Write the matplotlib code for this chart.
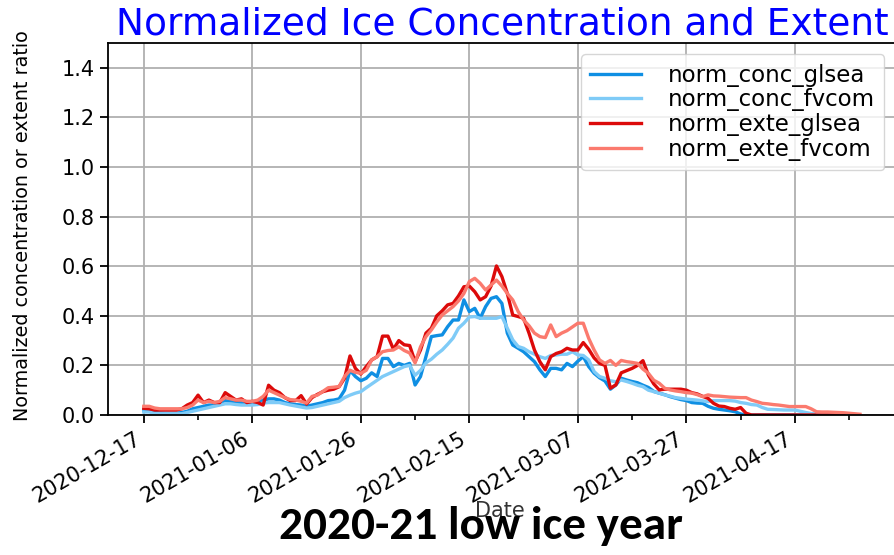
import numpy as np
import matplotlib
matplotlib.use("Agg")
import matplotlib.pyplot as plt
from matplotlib.ticker import FixedLocator

# Daily normalized values, one entry per day starting 2020-12-17
norm_conc_glsea = [
    0.02, 0.02, 0.01, 0.008, 0.007, 0.007, 0.007, 0.01, 0.015, 0.025,
    0.03, 0.035, 0.04, 0.04, 0.05, 0.058, 0.055, 0.05, 0.05, 0.045,
    0.045, 0.05, 0.06, 0.065, 0.065, 0.06, 0.05, 0.045, 0.042, 0.04,
    0.035, 0.04, 0.045, 0.05, 0.058, 0.06, 0.065, 0.10, 0.18, 0.155,
    0.138, 0.148, 0.17, 0.155, 0.228, 0.228, 0.195, 0.208, 0.20, 0.208,
    0.121, 0.155, 0.235, 0.316, 0.32, 0.323, 0.356, 0.383, 0.383, 0.464,
    0.417, 0.43, 0.39, 0.437, 0.47, 0.477, 0.45, 0.33, 0.282, 0.269,
    0.255, 0.235, 0.215, 0.182, 0.155, 0.188, 0.188, 0.182, 0.208, 0.195,
    0.217, 0.235, 0.195, 0.168, 0.15, 0.137, 0.104, 0.121, 0.148, 0.141,
    0.135, 0.13, 0.12, 0.111, 0.095, 0.088, 0.082, 0.074, 0.068, 0.062,
    0.058, 0.05, 0.048, 0.047, 0.035, 0.027, 0.023, 0.02, 0.017, 0.013,
    0.004, 0, 0, 0, 0, 0, 0, 0, 0, 0,
    0, 0, 0, 0, 0, 0, 0, 0, 0, 0,
    None, None, None,
]

norm_conc_fvcom = [
    0.012, 0.012, 0.006, 0.005, 0.005, 0.005, 0.005, 0.005, 0.01, 0.015,
    0.02, 0.025, 0.03, 0.035, 0.04, 0.045, 0.045, 0.042, 0.04, 0.04,
    0.04, 0.042, 0.048, 0.05, 0.05, 0.05, 0.045, 0.04, 0.036, 0.032,
    0.028, 0.03, 0.035, 0.04, 0.045, 0.05, 0.055, 0.07, 0.08, 0.088,
    0.094, 0.11, 0.125, 0.14, 0.155, 0.165, 0.175, 0.185, 0.195, 0.20,
    0.16, 0.18, 0.21, 0.225, 0.245, 0.262, 0.285, 0.31, 0.35, 0.37,
    0.395, 0.397, 0.39, 0.39, 0.39, 0.39, 0.397, 0.35, 0.303, 0.276,
    0.269, 0.255, 0.245, 0.235, 0.228, 0.24, 0.242, 0.245, 0.245, 0.255,
    0.242, 0.24, 0.222, 0.175, 0.155, 0.148, 0.138, 0.134, 0.141, 0.135,
    0.128, 0.12, 0.114, 0.10, 0.094, 0.088, 0.081, 0.076, 0.07, 0.067,
    0.064, 0.062, 0.06, 0.057, 0.054, 0.058, 0.058, 0.058, 0.058, 0.056,
    0.05, 0.047, 0.042, 0.04, 0.03, 0.023, 0.022, 0.021, 0.02, 0.02,
    0.02, 0.015, 0.01, 0.006, 0.004, 0, 0, 0, 0, 0,
    None, None, None,
]

norm_exte_glsea = [
    0.027, 0.025, 0.02, 0.02, 0.02, 0.02, 0.02, 0.025, 0.04, 0.05,
    0.08, 0.05, 0.06, 0.05, 0.05, 0.09, 0.075, 0.06, 0.065, 0.05,
    0.055, 0.05, 0.04, 0.12, 0.10, 0.09, 0.07, 0.058, 0.058, 0.078,
    0.044, 0.07, 0.083, 0.094, 0.10, 0.104, 0.114, 0.148, 0.238, 0.188,
    0.165, 0.195, 0.222, 0.235, 0.318, 0.318, 0.265, 0.30, 0.283, 0.28,
    0.215, 0.262, 0.33, 0.35, 0.40, 0.42, 0.444, 0.45, 0.48, 0.517,
    0.52, 0.497, 0.464, 0.477, 0.52, 0.601, 0.558, 0.49, 0.403, 0.397,
    0.39, 0.33, 0.262, 0.215, 0.182, 0.235, 0.248, 0.255, 0.269, 0.262,
    0.262, 0.292, 0.265, 0.23, 0.208, 0.20, 0.108, 0.121, 0.17, 0.179,
    0.188, 0.20, 0.219, 0.161, 0.125, 0.101, 0.104, 0.104, 0.104, 0.104,
    0.10, 0.09, 0.085, 0.075, 0.067, 0.047, 0.036, 0.034, 0.027, 0.023,
    0.03, 0.007, 0, 0, 0, 0, 0, 0, 0, 0,
    0, 0, 0, 0, 0, 0, 0, 0, 0, 0,
    None, None, None,
]

norm_exte_fvcom = [
    0.035, 0.035, 0.028, 0.025, 0.025, 0.025, 0.025, 0.025, 0.03, 0.04,
    0.06, 0.05, 0.055, 0.05, 0.055, 0.07, 0.065, 0.06, 0.06, 0.055,
    0.055, 0.06, 0.075, 0.10, 0.09, 0.08, 0.07, 0.062, 0.06, 0.055,
    0.048, 0.075, 0.08, 0.095, 0.11, 0.112, 0.115, 0.155, 0.18, 0.172,
    0.168, 0.18, 0.222, 0.235, 0.255, 0.26, 0.262, 0.275, 0.26, 0.25,
    0.21, 0.275, 0.316, 0.343, 0.375, 0.403, 0.42, 0.437, 0.46, 0.49,
    0.538, 0.551, 0.531, 0.504, 0.524, 0.544, 0.52, 0.49, 0.464, 0.417,
    0.383, 0.36, 0.33, 0.316, 0.312, 0.363, 0.316, 0.33, 0.34, 0.355,
    0.37, 0.37, 0.309, 0.262, 0.222, 0.208, 0.22, 0.20, 0.22, 0.215,
    0.212, 0.208, 0.185, 0.168, 0.14, 0.128, 0.108, 0.101, 0.097, 0.094,
    0.09, 0.088, 0.082, 0.074, 0.081, 0.077, 0.076, 0.074, 0.072, 0.071,
    0.07, 0.07, 0.06, 0.054, 0.047, 0.045, 0.042, 0.04, 0.037, 0.034,
    0.034, 0.034, 0.034, 0.025, 0.013, 0.012, 0.012, 0.011, 0.01, 0.009,
    0.007, 0.005, 0.003,
]

date_tick_labels = ["2020-12-17", "2021-01-06", "2021-01-26", "2021-02-15",
                    "2021-03-07", "2021-03-27", "2021-04-17"]

series = [
    ("norm_conc_glsea", norm_conc_glsea, "#0f8fe3"),
    ("norm_conc_fvcom", norm_conc_fvcom, "#7fcbf7"),
    ("norm_exte_glsea", norm_exte_glsea, "#dc0a0a"),
    ("norm_exte_fvcom", norm_exte_fvcom, "#fb7a6e"),
]

fig = plt.figure(figsize=(8.94, 5.55), dpi=100)
ax = fig.add_axes([0.1208, 0.2523, 0.8812, 0.6702])

for name, vals, color in series:
    y = np.array(vals, dtype=float)
    x = np.arange(len(y))
    ax.plot(x, y, color=color, lw=2.4, label=name)

ax.set_ylim(0, 1.5)
yt = np.arange(0, 1.41, 0.2)
ax.yaxis.set_major_locator(FixedLocator(yt))
ax.set_yticklabels([f"{v:.1f}" for v in yt])

major_days = np.arange(0, 20 * len(date_tick_labels), 20)
ax.set_xticks(major_days)
ax.set_xticklabels(date_tick_labels, rotation=30, ha="right")
ax.xaxis.set_minor_locator(FixedLocator(major_days + 10))

ax.grid(True, which="major", color="#b0b0b0", lw=1.3)
ax.set_axisbelow(True)
for s in ax.spines.values():
    s.set_linewidth(1.3)
ax.tick_params(axis="both", which="major", labelsize=15, length=6, width=1.3)
ax.tick_params(axis="x", which="minor", length=3.5, width=1.2)

ax.set_title("Normalized Ice Concentration and Extent", color="blue",
             fontsize=27, pad=6)
ax.set_ylabel("Normalized concentration or extent ratio", fontsize=13.8)
ax.yaxis.set_label_coords(-0.097, 0.51)
ax.set_xlabel("Date", fontsize=15, color="#333333")
ax.xaxis.set_label_coords(0.497, -0.232)

leg = ax.legend(loc="upper right", fontsize=16.5, labelspacing=0.08,
                handlelength=2.2, handletextpad=1.2, borderpad=0.4,
                borderaxespad=0.5)

fig.text(0.538, 0.028, "2020-21 low ice year",
         family=["Carlito", "Liberation Sans Narrow", "DejaVu Sans"],
         fontweight="bold", fontsize=34, ha="center", va="baseline",
         color="black", zorder=5)

fig.savefig("out.png", dpi=100)
